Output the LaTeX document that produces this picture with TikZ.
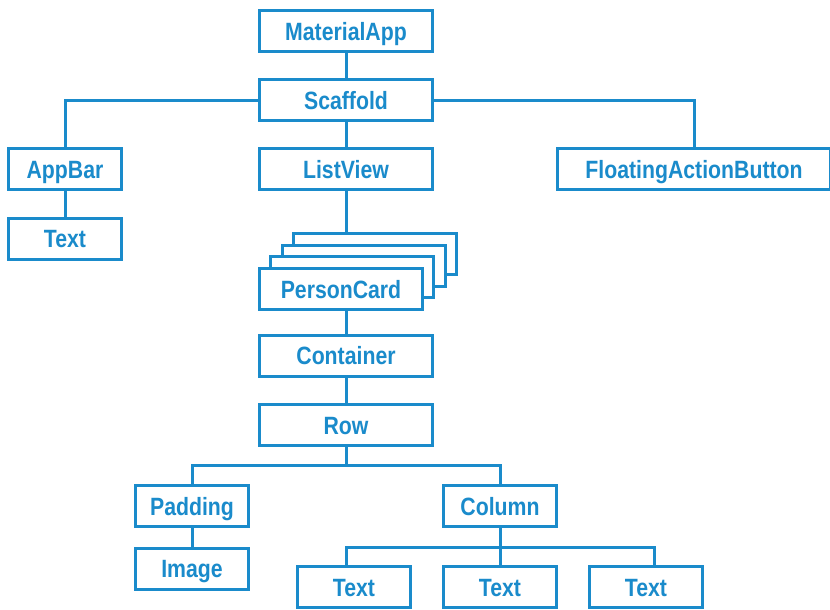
\documentclass[tikz,border=0pt]{standalone}
\usepackage{fontspec}
\newfontfamily\boxfont[FakeStretch=0.85]{Liberation Sans Bold}
\definecolor{treeblue}{HTML}{1A8BCB}
\begin{document}
\begin{tikzpicture}[x=1pt,y=-1pt]
    \tikzstyle{box}=[draw=treeblue,line width=3pt,fill=white,text=treeblue,inner sep=0pt,minimum width=173pt,minimum height=41pt,text height=22.5pt,text depth=4pt,font=\boxfont\fontsize{25}{25}\selectfont]
    \tikzstyle{small}=[box,minimum width=113pt]
    \tikzstyle{link}=[draw=treeblue,line width=3pt]
    \useasboundingbox (0,0) rectangle (830,610);

    \node[box] (material) at (346,31) {MaterialApp};
    \node[box] (scaffold) at (346,100) {Scaffold};
    \node[small] (appbar) at (65,169) {AppBar};
    \node[small] (apptext) at (65,238.5) {Text};
    \node[box] (listview) at (346,169) {ListView};
    \node[box,minimum width=273pt] (fab) at (694,169) {FloatingActionButton};

    % stacked cards behind PersonCard
    \foreach \i in {3,2,1}
        \node[box,minimum width=163pt] (card\i) at (341+11.3*\i,289-11.7*\i) {};
    \node[box,minimum width=163pt] (person) at (341,289) {PersonCard};

    \node[box] (container) at (346,355.5) {Container};
    \node[box] (row) at (346,425) {Row};
    \node[small] (padding) at (192,506) {Padding};
    \node[small] (image) at (192,568.5) {Image};
    \node[small] (column) at (500,506) {Column};
    \node[small] (text1) at (354,587) {Text};
    \node[small] (text2) at (500,587) {Text};
    \node[small] (text3) at (646,587) {Text};

    \draw[link] (material) -- (scaffold);
    \draw[link] (scaffold.west) -| (appbar.north);
    \draw[link] (scaffold.east) -| (fab.north);
    \draw[link] (appbar) -- (apptext);
    \draw[link] (scaffold) -- (listview);
    \draw[link] (listview) -- (listview |- card3.north);
    \draw[link] (container) -- (container |- person.south);
    \draw[link] (container) -- (row);
    \draw[link] (row.south) -- ++(0,18) coordinate (rowbus);
    \draw[link] (rowbus) -| (padding.north);
    \draw[link] (rowbus) -| (column.north);
    \draw[link] (padding) -- (image);
    \draw[link] (column.south) -- ++(0,19) coordinate (colbus);
    \draw[link] (colbus) -| ([xshift=-8pt]text1.north);
    \draw[link] (colbus) -- (text2.north);
    \draw[link] (colbus) -| ([xshift=8pt]text3.north);
\end{tikzpicture}
\end{document}
